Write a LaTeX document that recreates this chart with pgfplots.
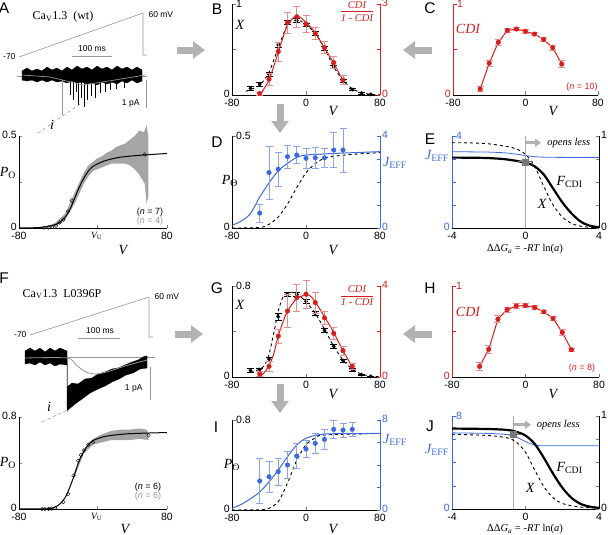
\documentclass[border=0pt]{standalone}
\usepackage{fontspec}
\setmainfont{Liberation Serif}
\setsansfont{Liberation Sans}
\usepackage{pgfplots}
\pgfplotsset{compat=1.18}
\usetikzlibrary{arrows.meta}

\definecolor{cdired}{RGB}{214,30,30}
\definecolor{cdierr}{RGB}{234,140,140}
\definecolor{jblue}{RGB}{60,105,222}
\definecolor{jerr}{RGB}{135,165,232}
\definecolor{bigarrow}{RGB}{178,178,178}
\definecolor{trgray}{RGB}{150,150,150}
\definecolor{bandgray}{RGB}{165,165,165}
\definecolor{mkgray}{RGB}{120,120,120}

\newcommand{\tl}{\sffamily\fontsize{10.5}{12}\selectfont}
\newcommand{\lab}{\rmfamily\itshape\fontsize{14}{16}\selectfont}
\newcommand{\plab}{\sffamily\fontsize{15.5}{17}\selectfont}
\newcommand{\ntext}{\sffamily\fontsize{9}{10}\selectfont}
\newcommand{\smtext}{\sffamily\fontsize{8.5}{10}\selectfont}
\newcommand{\Po}{\textit{P}\textsubscript{\upshape O}}
\newcommand{\Jeff}{\textit{J}\textsubscript{\upshape EFF}}
\newcommand{\Fcdi}{\textit{F}\textsubscript{\upshape CDI}}
\newcommand{\cdifrac}{\begin{tabular}{@{}c@{}}CDI\\[-1pt]\hline\rule{0pt}{10pt}1 - CDI\end{tabular}}

\pgfplotsset{
  common/.style={scale only axis, clip=false,
    tick align=inside, major tick length=3.5pt,
    tick label style={font=\tl, inner sep=0.5pt},
    xticklabel style={yshift=-3.5pt},
    yticklabel style={xshift=-1.5pt, yshift=1.5pt},
    axis line style={line width=0.5pt}},
  lpanel/.style={common, axis x line*=bottom, axis y line*=left},
  rpanel/.style={common, axis x line=none, axis y line*=right, yticklabel style={xshift=3pt}},
  vaxis/.style={xmin=-80, xmax=80, xtick={-80,0,80}, xticklabels={-80,0,80}},
  gaxis/.style={xmin=-4, xmax=4, xtick={-4,0,4}, xticklabels={-4,0,4}},
  pos/.style 2 args={at={(#1pt,-#2pt)}, anchor=south west},
  size/.style 2 args={width=#1pt, height=#2pt},
  redaxis/.style={y axis line style={cdired}, ytick style={cdired}, yticklabel style={cdired}},
  blueaxis/.style={y axis line style={jblue}, ytick style={jblue}, yticklabel style={jblue}},
  rederr/.style={only marks, mark=*, mark size=2.3pt, color=cdired,
    error bars/y dir=both, error bars/y explicit,
    error bars/error bar style={cdierr, line width=0.7pt},
    error bars/error mark options={cdierr, rotate=90, mark size=3.5pt, line width=0.7pt}},
  blueerr/.style={only marks, mark=*, mark size=2.3pt, color=jblue,
    error bars/y dir=both, error bars/y explicit,
    error bars/error bar style={jerr, line width=0.7pt},
    error bars/error mark options={jerr, rotate=90, mark size=3.5pt, line width=0.7pt}},
  blackerr/.style={only marks, mark=*, mark size=1.7pt, color=black,
    error bars/y dir=both, error bars/y explicit,
    error bars/error bar style={black, line width=0.5pt},
    error bars/error mark options={black, rotate=90, mark size=3.5pt, line width=0.6pt}},
  gmark/.style={only marks, mark=square*, mark size=3pt, color=mkgray,
    error bars/x dir=both, error bars/x explicit,
    error bars/error bar style={mkgray, line width=1.2pt},
    error bars/error mark options={mkgray, mark size=2pt, line width=0.8pt}},
}

\begin{document}
\begin{tikzpicture}
\useasboundingbox (0pt,0pt) rectangle (608pt,-535pt);

% ---------- pixel layer: stimulus ramps, raw traces, scale bars, arrows
\begin{axis}[at={(0pt,0pt)}, anchor=north west, scale only axis,
  width=608pt, height=535pt, xmin=0, xmax=608, ymin=0, ymax=535,
  y dir=reverse, hide axis, clip=false]
% panel A ramp and bars
\addplot[trgray, line width=0.6pt] coordinates {(19,57) (143,13) (143,55) (147,55)};
\addplot[trgray, line width=0.6pt] coordinates {(72,56) (112,56)};
\addplot[trgray, line width=0.6pt] coordinates {(146,80) (146,108)};
\addplot[trgray, line width=0.6pt] coordinates {(17,76) (147,76)};
% panel A single-channel trace
\addplot[fill=black, draw=black, line width=0.3pt] coordinates {
  (22,71) (27,68) (32,71) (37,69) (42,71) (47,67) (52,70) (57,68) (62,71) (67,67)
  (72,70) (77,66) (82,69) (87,67) (92,70) (97,66) (102,69) (107,67) (112,70)
  (117,66) (122,69) (127,67) (132,70) (137,67) (142,70)
  (142,81) (137,83) (132,80) (127,83) (122,81) (117,84) (112,82) (107,84) (102,82)
  (97,85) (92,83) (87,84) (82,82) (77,83) (72,81) (67,83) (62,81) (57,82) (52,80)
  (47,82) (42,80) (37,82) (32,80) (27,81) (22,80)} -- cycle;
\addplot[trgray, line width=0.8pt] coordinates {(62,80) (62,115)};
\addplot[black, line width=0.5pt, unbounded coords=jump] coordinates {
  (70,80) (70,95) (71,nan) (73,80) (73,100) (74,nan) (76,80) (76,92) (77,nan)
  (78,80) (78,105) (79,nan) (81,80) (81,98) (82,nan) (84,80) (84,107) (85,nan)
  (87,80) (87,100) (88,nan) (91,80) (91,96) (92,nan) (95,80) (95,98) (96,nan)
  (100,80) (100,93) (101,nan) (105,80) (105,92) (106,nan) (110,80) (110,90) (111,nan)
  (116,80) (116,89) (117,nan) (124,80) (124,88)};
\addplot[trgray, line width=0.7pt] coordinates {(22,75) (50,77) (83,85) (115,80) (145,75)};
\addplot[trgray, line width=0.6pt, dashed] coordinates {(38,133) (83,102)};

% panel F ramp and bars
\addplot[trgray, line width=0.6pt] coordinates {(30,335) (149,297) (149,337) (153,337)};
\addplot[trgray, line width=0.6pt] coordinates {(78,338) (120,338)};
\addplot[trgray, line width=0.6pt] coordinates {(150,367) (150,400)};
\addplot[trgray, line width=0.6pt] coordinates {(67,357) (155,357)};
\addplot[trgray, line width=0.6pt] coordinates {(67,357) (67,412)};
% panel F trace
\addplot[fill=black, draw=black, line width=0.3pt] coordinates {
  (25,351) (30,348) (35,351) (40,348) (45,352) (50,348) (55,351) (60,348) (67,351)
  (67,387) (72,383) (78,384) (85,379) (92,378) (98,374) (105,372) (112,369) (118,368)
  (125,365) (132,362) (138,360) (145,356) (147,356)
  (147,368) (140,369) (133,373) (126,375) (119,379) (112,382) (105,386) (98,389)
  (90,393) (82,399) (75,404) (68,410) (67,410)
  (67,365) (60,364) (55,366) (50,363) (45,365) (40,362) (35,365) (30,363) (25,364)} -- cycle;
\addplot[trgray, line width=0.8pt, smooth] coordinates {(25,358) (67,358) (76,365) (86,372) (97,374) (110,371) (125,366) (147,360)};
\addplot[trgray, line width=0.6pt, dashed] coordinates {(42,422) (67,410)};

% big gray arrows between panels
\draw[bigarrow, line width=7pt, -{Triangle[length=12pt,width=17pt]}] (axis cs:177,50) -- (axis cs:205,50);
\draw[bigarrow, line width=7pt, -{Triangle[length=12pt,width=17pt]}] (axis cs:432,50) -- (axis cs:403,50);
\draw[bigarrow, line width=7pt, -{Triangle[length=12pt,width=17pt]}] (axis cs:280,104) -- (axis cs:280,133);
\draw[bigarrow, line width=7pt, -{Triangle[length=12pt,width=17pt]}] (axis cs:175,334) -- (axis cs:203,334);
\draw[bigarrow, line width=7pt, -{Triangle[length=12pt,width=17pt]}] (axis cs:432,334) -- (axis cs:403,334);
\draw[bigarrow, line width=7pt, -{Triangle[length=12pt,width=17pt]}] (axis cs:280,384) -- (axis cs:280,413);
\end{axis}

% ---------- A: open probability
\begin{axis}[lpanel, vaxis, pos={19}{228}, size={148}{92},
  ymin=0, ymax=0.5, ytick={0,0.25,0.5}, yticklabels={0,,0.5},
  xtick={-80,4,80},
  xticklabels={-80,{\rmfamily\itshape\fontsize{9.5}{10}\selectfont V\textsubscript{\upshape U}},80}]
\addplot[fill=bandgray, draw=none] coordinates {
  (-50,0.005) (-40,0.03) (-30,0.08) (-20,0.19) (-10,0.30) (-5,0.34) (0,0.36) (5,0.38)
  (10,0.39) (15,0.41) (20,0.42) (25,0.44) (30,0.45) (35,0.46) (40,0.48) (45,0.5)
  (50,0.53) (55,0.52) (58,0.56) (60,0.49)
  (60,0.18) (58,0.13) (56,0.24) (50,0.29) (45,0.32) (40,0.34) (35,0.35) (30,0.35)
  (25,0.35) (20,0.35) (15,0.34) (10,0.33) (5,0.32) (0,0.31) (-5,0.28) (-10,0.24)
  (-20,0.13) (-30,0.045) (-40,0.01) (-50,0)} -- cycle;
\addplot[black, line width=1pt, smooth] coordinates {
  (-80,0) (-60,0.002) (-50,0.008) (-40,0.02) (-35,0.035) (-30,0.06) (-25,0.10)
  (-20,0.16) (-15,0.22) (-10,0.27) (-5,0.31) (0,0.335) (10,0.36) (20,0.375)
  (30,0.385) (50,0.395) (80,0.405)};
\addplot[only marks, mark=o, mark size=1.8pt, black, line width=0.4pt] coordinates {
  (-53,0.002) (-48,0.003) (-44,0.006) (-40,0.012) (-36,0.03) (-32,0.045)
  (-27,0.09) (-23,0.15) (56,0.40)};
\end{axis}

% ---------- B: X and CDI/(1-CDI)
\begin{axis}[lpanel, vaxis, pos={232}{95}, size={148}{91},
  ymin=0, ymax=1, ytick={0,0.5,1}, yticklabels={0,,}]
\addplot[black, dashed, line width=0.9pt, smooth] coordinates {
  (-65,0.04) (-60,0.06) (-50,0.11) (-40,0.25) (-30,0.52) (-20,0.77) (-12,0.82)
  (-5,0.81) (0,0.77) (10,0.68) (20,0.51) (30,0.31) (40,0.16) (50,0.07) (60,0.025)
  (70,0.008) (80,0.002)};
\addplot[blackerr] coordinates {
  (-60,0.073) +- (0,0.02) (-50,0.12) +- (0,0.02) (-40,0.23) +- (0,0.02)
  (-30,0.55) +- (0,0.03) (-20,0.80) +- (0,0.02) (-10,0.82) +- (0,0.02)
  (0,0.77) +- (0,0.02) (10,0.68) +- (0,0.02) (20,0.51) +- (0,0.02)
  (30,0.31) +- (0,0.02) (40,0.16) +- (0,0.015) (50,0.06) +- (0,0.01)
  (60,0.02) +- (0,0.01) (70,0.007) +- (0,0.005)};
\node[anchor=west, font=\tl, inner sep=1pt] at (rel axis cs:0.02,1) {1};
\end{axis}
\begin{axis}[rpanel, redaxis, pos={232}{95}, size={148}{91}, xmin=-80, xmax=80,
  ymin=0, ymax=3, ytick={0,1.5,3}, yticklabels={0,,\raisebox{-3.5pt}{3}}]
\addplot[cdired, line width=1pt, smooth] coordinates {
  (-50,0.0) (-40,0.5) (-30,1.4) (-20,2.3) (-10,2.6) (0,2.4) (10,2.05) (20,1.55)
  (30,1.05) (40,0.47)};
\addplot[rederr] coordinates {
  (-50,0.05) +- (0,0.05) (-40,0.52) +- (0,0.2) (-30,1.43) +- (0,0.32)
  (-20,2.38) +- (0,0.35) (-10,2.58) +- (0,0.34) (0,2.34) +- (0,0.28)
  (10,2.03) +- (0,0.2) (20,1.56) +- (0,0.2) (30,1.07) +- (0,0.2) (40,0.49) +- (0,0.15)};
\end{axis}

% ---------- C: CDI (wt)
\begin{axis}[lpanel, vaxis, redaxis, pos={453}{95}, size={145}{91},
  ymin=0, ymax=1, ytick={0,0.5,1}, yticklabels={0,,}]
\addplot[cdired, line width=1pt] coordinates {
  (-50,0.066) (-40,0.35) (-30,0.58) (-20,0.71) (-10,0.725) (0,0.70) (10,0.67)
  (20,0.61) (30,0.52) (40,0.34)};
\addplot[rederr] coordinates {
  (-50,0.066) +- (0,0.03) (-40,0.35) +- (0,0.03) (-30,0.58) +- (0,0.03)
  (-20,0.71) +- (0,0.02) (-10,0.725) +- (0,0.02) (0,0.70) +- (0,0.02)
  (10,0.67) +- (0,0.02) (20,0.61) +- (0,0.025) (30,0.52) +- (0,0.03) (40,0.34) +- (0,0.04)};
\node[anchor=west, font=\tl, text=cdired, inner sep=1pt] at (rel axis cs:0.02,1) {1};
\end{axis}

% ---------- D: Po and Jeff (wt)
\begin{axis}[lpanel, vaxis, pos={232}{228}, size={148}{92},
  ymin=0, ymax=0.5, ytick={0,0.25,0.5}, yticklabels={0,,}]
\addplot[black, dashed, line width=0.9pt, smooth] coordinates {
  (-80,0) (-50,0.003) (-40,0.02) (-30,0.06) (-20,0.13) (-10,0.22) (0,0.30)
  (10,0.35) (20,0.38) (30,0.39) (50,0.40) (80,0.41)};
\node[anchor=west, font=\tl, inner sep=1pt] at (rel axis cs:0.02,1) {0.5};
\end{axis}
\begin{axis}[rpanel, blueaxis, pos={232}{228}, size={148}{92}, xmin=-80, xmax=80,
  ymin=0, ymax=4, ytick={0,1,2,3,4}, yticklabels={0,,,,4}]
\addplot[jblue, line width=1pt, smooth] coordinates {
  (-80,0.12) (-70,0.3) (-60,0.63) (-50,1.35) (-40,1.96) (-30,2.49) (-20,2.81)
  (-10,3.07) (0,3.17) (30,3.24) (80,3.32)};
\addplot[blueerr] coordinates {
  (-50,0.65) +- (0,0.4) (-40,2.41) +- (0,1.15) (-30,2.56) +- (0,0.75)
  (-20,3.1) +- (0,0.5) (-10,3.17) +- (0,0.38) (0,3.03) +- (0,0.43)
  (10,3.05) +- (0,0.47) (20,3.05) +- (0,0.4) (30,3.39) +- (0,0.75) (40,3.39) +- (0,0.95)};
\end{axis}

% ---------- E: model vs energy (wt)
\begin{axis}[lpanel, gaxis, blueaxis, pos={452}{228}, size={147}{92},
  ymin=0, ymax=4, ytick={0,1,2,3,4}, yticklabels={0,,,,}]
\addplot[jblue, line width=0.8pt, smooth] coordinates {
  (-4,3.32) (-3,3.31) (-2,3.3) (-1,3.26) (0,3.15) (0.5,3.1) (1,3.08) (2,3.07) (4,3.07)};
\node[anchor=west, font=\tl, text=jblue, inner sep=1pt] at (rel axis cs:0.02,1) {4};
\end{axis}
\begin{axis}[rpanel, pos={452}{228}, size={147}{92}, xmin=-4, xmax=4,
  ymin=0, ymax=1, ytick={0,0.25,0.5,0.75,1}, yticklabels={0,,,,1}]
\addplot[trgray!80, line width=0.8pt] coordinates {(0,0) (0,1)};
\addplot[black, dashed, line width=0.9pt, smooth] coordinates {
  (-4,0.927) (-3,0.925) (-2,0.915) (-1,0.885) (-0.5,0.86) (0,0.80) (0.5,0.67)
  (1,0.45) (1.5,0.25) (2,0.12) (2.5,0.05) (3,0.02) (3.5,0.008) (4,0.003)};
\addplot[black, line width=2.2pt, smooth] coordinates {
  (-4,0.765) (-3,0.764) (-2,0.76) (-1,0.745) (0,0.71) (0.5,0.67) (1,0.58)
  (1.5,0.43) (2,0.28) (2.5,0.16) (3,0.07) (3.5,0.025) (4,0.008)};
\addplot[gmark] coordinates {(0,0.72) +- (0.3,0)};
\draw[bigarrow, line width=2.5pt, -{Triangle[length=6pt,width=8pt]}] (axis cs:0.05,0.927) -- (axis cs:0.85,0.927);
\node[anchor=west, font=\rmfamily\itshape\fontsize{10.5}{12}\selectfont] at (axis cs:1.0,0.927) {opens less};
\node[font=\lab] at (axis cs:2.4,0.5) {\Fcdi};
\node[font=\lab] at (axis cs:0.9,0.26) {X};
\end{axis}

% ---------- F: open probability (L0396P)
\begin{axis}[lpanel, vaxis, pos={19}{509}, size={148}{92},
  ymin=0, ymax=0.8, ytick={0,0.4,0.8}, yticklabels={0,,0.8},
  xtick={-80,4,80},
  xticklabels={-80,{\rmfamily\itshape\fontsize{9.5}{10}\selectfont V\textsubscript{\upshape U}},80}]
\addplot[fill=bandgray, draw=none] coordinates {
  (-20,0.32) (-10,0.52) (0,0.61) (10,0.65) (20,0.68) (30,0.69) (40,0.69) (50,0.7)
  (58,0.69) (60,0.66) (60,0.6) (50,0.61) (40,0.6) (30,0.6) (20,0.6) (10,0.58)
  (0,0.56) (-10,0.48) (-20,0.28)} -- cycle;
\addplot[black, line width=1pt, smooth] coordinates {
  (-80,0) (-50,0.002) (-45,0.006) (-40,0.02) (-35,0.05) (-30,0.1) (-25,0.19)
  (-20,0.3) (-15,0.42) (-10,0.5) (-5,0.56) (0,0.595) (10,0.625) (20,0.64)
  (40,0.655) (80,0.665)};
\addplot[only marks, mark=o, mark size=1.8pt, black, line width=0.4pt] coordinates {
  (-55,0) (-52,0) (-48,0.001) (-45,0.004) (-41,0.01) (-32,0.06) (-27,0.13)
  (-21,0.29) (-16,0.42) (-13,0.47) (-10,0.51) (-5,0.56) (0,0.58) (60,0.64)};
\end{axis}

% ---------- G: X and CDI/(1-CDI) (L0396P)
\begin{axis}[lpanel, vaxis, pos={232}{377}, size={148}{91},
  ymin=0, ymax=0.8, ytick={0,0.4,0.8}, yticklabels={0,,}]
\addplot[black, dashed, line width=0.9pt, smooth] coordinates {
  (-60,0.04) (-50,0.07) (-45,0.1) (-40,0.2) (-35,0.38) (-30,0.58) (-25,0.70)
  (-20,0.74) (-15,0.745) (-10,0.73) (-5,0.70) (0,0.66) (10,0.56) (20,0.42)
  (30,0.27) (40,0.15) (50,0.07) (60,0.025) (70,0.008) (80,0.002)};
\addplot[blackerr] coordinates {
  (-60,0.058) +- (0,0.015) (-50,0.064) +- (0,0.015) (-40,0.157) +- (0,0.015)
  (-30,0.53) +- (0,0.03) (-20,0.727) +- (0,0.015) (-10,0.727) +- (0,0.015)
  (0,0.666) +- (0,0.02) (10,0.56) +- (0,0.02) (20,0.41) +- (0,0.02)
  (30,0.27) +- (0,0.02) (40,0.145) +- (0,0.015) (50,0.064) +- (0,0.01)
  (60,0.02) +- (0,0.008) (70,0.006) +- (0,0.004)};
\node[anchor=west, font=\tl, inner sep=1pt] at (rel axis cs:0.02,1) {0.8};
\end{axis}
\begin{axis}[rpanel, redaxis, pos={232}{377}, size={148}{91}, xmin=-80, xmax=80,
  ymin=0, ymax=4, ytick={0,2,4}, yticklabels={0,,4}]
\addplot[cdired, line width=1pt, smooth] coordinates {
  (-50,0.0) (-45,0.2) (-40,0.5) (-35,1.0) (-30,1.8) (-25,2.4) (-20,2.9)
  (-10,3.45) (0,3.6) (5,3.55) (10,3.3) (20,2.65) (30,1.95) (40,1.15) (50,0.45)};
\addplot[rederr] coordinates {
  (-50,0.13) +- (0,0.1) (-40,0.47) +- (0,0.2) (-30,1.8) +- (0,0.3)
  (-20,2.9) +- (0,0.73) (-10,3.49) +- (0,0.6) (0,3.64) +- (0,0.63)
  (10,3.27) +- (0,0.47) (20,2.6) +- (0,0.3) (30,1.92) +- (0,0.25)
  (40,1.16) +- (0,0.2) (50,0.47) +- (0,0.15)};
\end{axis}

% ---------- H: CDI (L0396P)
\begin{axis}[lpanel, vaxis, redaxis, pos={452}{377}, size={147}{91},
  ymin=0, ymax=1, ytick={0,0.5,1}, yticklabels={0,,}]
\addplot[cdired, line width=1pt] coordinates {
  (-50,0.116) (-40,0.305) (-30,0.636) (-20,0.74) (-10,0.78) (0,0.785) (10,0.764)
  (20,0.716) (30,0.644) (40,0.49) (50,0.30)};
\addplot[rederr] coordinates {
  (-50,0.116) +- (0,0.04) (-40,0.305) +- (0,0.04) (-30,0.636) +- (0,0.04)
  (-20,0.74) +- (0,0.03) (-10,0.78) +- (0,0.025) (0,0.785) +- (0,0.02)
  (10,0.764) +- (0,0.02) (20,0.716) +- (0,0.02) (30,0.644) +- (0,0.025)
  (40,0.49) +- (0,0.03) (50,0.30) +- (0,0.02)};
\node[anchor=west, font=\tl, text=cdired, inner sep=1pt] at (rel axis cs:0.02,1) {1};
\end{axis}

% ---------- I: Po and Jeff (L0396P)
\begin{axis}[lpanel, vaxis, pos={232}{510}, size={148}{90},
  ymin=0, ymax=0.8, ytick={0,0.4,0.8}, yticklabels={0,,}]
\addplot[black, dashed, line width=0.9pt, smooth] coordinates {
  (-80,0) (-50,0.002) (-45,0.006) (-40,0.015) (-30,0.074) (-20,0.24) (-10,0.44)
  (0,0.58) (10,0.64) (20,0.667) (80,0.68)};
\node[anchor=west, font=\tl, inner sep=1pt] at (rel axis cs:0.02,1) {0.8};
\end{axis}
\begin{axis}[rpanel, blueaxis, pos={232}{510}, size={148}{90}, xmin=-80, xmax=80,
  ymin=0, ymax=8, ytick={0,2,4,6,8}, yticklabels={0,,,,8}]
\addplot[jblue, line width=1pt, smooth] coordinates {
  (-80,0.15) (-70,0.5) (-60,1.0) (-50,1.6) (-40,2.5) (-30,3.55) (-20,4.74)
  (-10,5.78) (0,6.37) (20,6.75) (80,6.8)};
\addplot[blueerr] coordinates {
  (-50,2.58) +- (0,2.0) (-40,2.96) +- (0,1.35) (-30,3.41) +- (0,1.2)
  (-20,4.0) +- (0,1.2) (-10,4.8) +- (0,1.1) (0,5.42) +- (0,0.75)
  (10,5.93) +- (0,0.85) (20,6.28) +- (0,0.9) (30,7.17) +- (0,0.8)
  (40,7.1) +- (0,0.6) (50,7.17) +- (0,0.6)};
\end{axis}

% ---------- J: model vs energy (L0396P)
\begin{axis}[lpanel, gaxis, blueaxis, pos={452}{509}, size={147}{93},
  ymin=0, ymax=8, ytick={0,2,4,6,8}, yticklabels={0,,,,}]
\addplot[jblue, line width=0.8pt, smooth] coordinates {
  (-4,6.55) (-2,6.5) (-1,6.4) (-0.5,6.2) (0,5.8) (0.5,5.5) (1,5.44) (2,5.44) (4,5.44)};
\node[anchor=west, font=\tl, text=jblue, inner sep=1pt] at (rel axis cs:0.02,1) {8};
\end{axis}
\begin{axis}[rpanel, pos={452}{509}, size={147}{93}, xmin=-4, xmax=4,
  ymin=0, ymax=1, ytick={0,0.25,0.5,0.75,1}, yticklabels={0,,,,1}]
\addplot[trgray!80, line width=0.8pt] coordinates {(-0.66,0) (-0.66,1)};
\addplot[black, dashed, line width=0.9pt, smooth] coordinates {
  (-4,0.804) (-2,0.79) (-1,0.765) (-0.5,0.72) (0,0.61) (0.5,0.42) (1,0.24)
  (1.5,0.12) (2,0.06) (2.5,0.035) (3,0.02) (4,0.008)};
\addplot[black, line width=2.2pt, smooth] coordinates {
  (-4,0.865) (-2,0.86) (-1,0.85) (-0.5,0.83) (0,0.79) (0.5,0.7) (1,0.55)
  (1.5,0.38) (2,0.23) (2.5,0.12) (3,0.055) (3.5,0.025) (4,0.012)};
\addplot[gmark] coordinates {(-0.66,0.8) +- (0.3,0)};
\draw[bigarrow, line width=2.5pt, -{Triangle[length=6pt,width=8pt]}] (axis cs:-0.6,0.907) -- (axis cs:0.3,0.907);
\node[anchor=west, font=\rmfamily\itshape\fontsize{10.5}{12}\selectfont] at (axis cs:0.42,0.907) {opens less};
\node[font=\lab] at (axis cs:2.4,0.44) {\Fcdi};
\node[font=\lab] at (axis cs:0.25,0.23) {X};
\end{axis}

% ---------- text
\node[font=\plab] at (4pt,-8pt) {A};
\node[font=\plab] at (217pt,-9pt) {B};
\node[font=\plab] at (430pt,-8pt) {C};
\node[font=\plab] at (217pt,-142pt) {D};
\node[font=\plab] at (430pt,-139pt) {E};
\node[font=\plab] at (4pt,-278pt) {F};
\node[font=\plab] at (217pt,-288pt) {G};
\node[font=\plab] at (430pt,-288pt) {H};
\node[font=\plab] at (216pt,-427pt) {I};
\node[font=\plab] at (430pt,-426pt) {J};

% A
\node[font=\rmfamily\fontsize{12}{14}\selectfont] at (63pt,-17pt) {Ca\textsubscript{V}1.3\ \ (wt)};
\node[font=\smtext, anchor=west] at (145pt,-15pt) {60 mV};
\node[font=\smtext, anchor=east] at (19pt,-57pt) {-70};
\node[font=\smtext] at (92pt,-49pt) {100 ms};
\node[font=\smtext, anchor=east] at (143pt,-103pt) {1 pA};
\node[font=\lab] at (52pt,-125pt) {i};
\node[font=\lab] at (8pt,-173pt) {\Po};
\node[font=\lab] at (123pt,-250pt) {V};
\node[font=\ntext] at (150pt,-212pt) {(\textit{n} = 7)};
\node[font=\ntext, text=trgray] at (150pt,-221pt) {(\textit{n} = 4)};
% B
\node[font=\lab] at (240pt,-25pt) {X};
\node[font=\rmfamily\itshape\fontsize{10.5}{12}\selectfont, text=cdired, inner sep=0pt] at (357pt,-13pt) {\cdifrac};
\node[font=\lab] at (333pt,-111pt) {V};
% C
\node[font=\lab, text=cdired] at (468pt,-29pt) {CDI};
\node[font=\lab] at (553pt,-111pt) {V};
\node[font=\ntext, text=cdired] at (582pt,-87pt) {(\textit{n} = 10)};
% D
\node[font=\lab] at (230pt,-181pt) {\Po};
\node[font=\lab, text=jblue] at (395pt,-163pt) {\Jeff};
\node[font=\lab] at (333pt,-250pt) {V};
% E
\node[font=\lab, text=jblue] at (437pt,-156pt) {\Jeff};
\node[font=\rmfamily\fontsize{10.5}{12}\selectfont] at (525pt,-249pt) {ΔΔ\textit{G}\textsubscript{\textit{a}} = -\textit{RT} ln(\textit{a})};
% F
\node[font=\rmfamily\fontsize{12}{14}\selectfont] at (62pt,-294pt) {Ca\textsubscript{V}1.3\ \ L0396P};
\node[font=\smtext, anchor=west] at (151pt,-297pt) {60 mV};
\node[font=\smtext, anchor=east] at (30pt,-335pt) {-70};
\node[font=\smtext] at (100pt,-331pt) {100 ms};
\node[font=\smtext, anchor=east] at (146pt,-388pt) {1 pA};
\node[font=\lab] at (49pt,-407pt) {i};
\node[font=\lab] at (8pt,-463pt) {\Po};
\node[font=\lab] at (125pt,-529pt) {V};
\node[font=\ntext] at (148pt,-487pt) {(\textit{n} = 6)};
\node[font=\ntext, text=trgray] at (148pt,-496pt) {(\textit{n} = 6)};
% G
\node[font=\lab] at (240pt,-305pt) {X};
\node[font=\rmfamily\itshape\fontsize{10.5}{12}\selectfont, text=cdired, inner sep=0pt] at (357pt,-297pt) {\cdifrac};
\node[font=\lab] at (333pt,-394pt) {V};
% H
\node[font=\lab, text=cdired] at (468pt,-312pt) {CDI};
\node[font=\lab] at (553pt,-394pt) {V};
\node[font=\ntext, text=cdired] at (582pt,-368pt) {(\textit{n} = 8)};
% I
\node[font=\lab] at (232pt,-465pt) {\Po};
\node[font=\lab, text=jblue] at (395pt,-440pt) {\Jeff};
\node[font=\lab] at (333pt,-529pt) {V};
% J
\node[font=\lab, text=jblue] at (437pt,-450pt) {\Jeff};
\node[font=\rmfamily\fontsize{10.5}{12}\selectfont] at (525pt,-529pt) {ΔΔ\textit{G}\textsubscript{\textit{a}} = -\textit{RT} ln(\textit{a})};
\end{tikzpicture}
\end{document}
